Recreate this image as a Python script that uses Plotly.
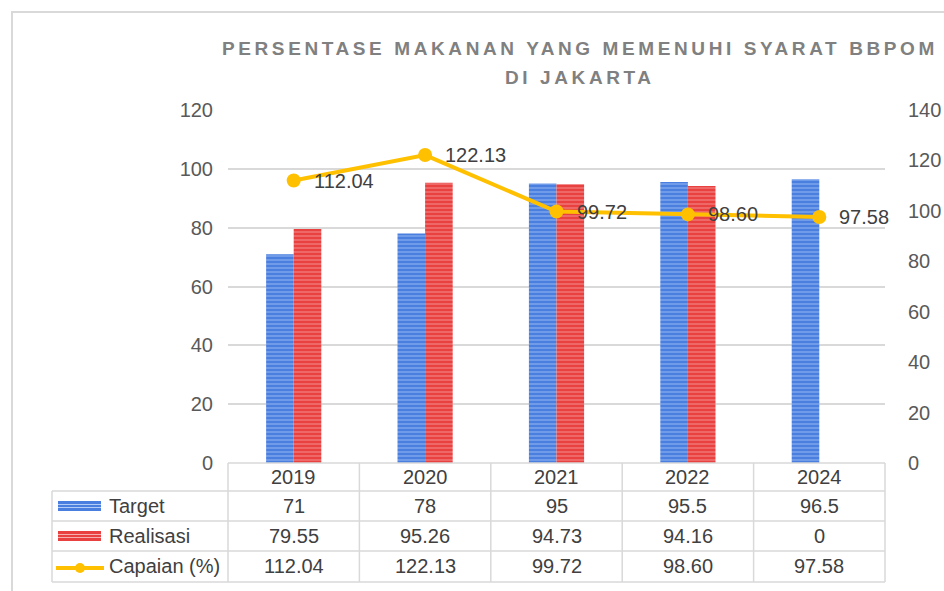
import plotly.graph_objects as go

# ---------------- data ----------------
categories = ["2019", "2020", "2021", "2022", "2024"]
target = [71, 78, 95, 95.5, 96.5]
realisasi = [79.55, 95.26, 94.73, 94.16, 0]
capaian = [112.04, 122.13, 99.72, 98.60, 97.58]
series_names = ["Target", "Realisasi", "Capaian (%)"]
left_ticks = [0, 20, 40, 60, 80, 100, 120]
right_ticks = [0, 20, 40, 60, 80, 100, 120, 140]
title_lines = ["PERSENTASE MAKANAN YANG MEMENUHI SYARAT BBPOM", "DI JAKARTA"]

# ---------------- layout geometry (pixels -> paper) ----------------
W_FIG, H_FIG = 944, 591
L, R, T, B = 228, 885, 110, 463
PW, PH = R - L, B - T


def px(x):
    return (x - L) / PW


def py(y):
    return (B - y) / PH


FONT = "Liberation Sans, Arial, sans-serif"
BLUE = "#4a7fe0"
BLUE_FG = "#b4cdf7"
RED = "#e8413f"
RED_FG = "#f7b0b0"
GOLD = "#FFC000"
GRID = "#d9d9d9"
TXT = "#404040"
TICK = "#595959"

fig = go.Figure()

fig.add_trace(go.Bar(
    x=categories, y=target, name=series_names[0],
    marker=dict(color=BLUE, line=dict(width=0),
                pattern=dict(shape="-", fgcolor=BLUE_FG, bgcolor=BLUE,
                             size=4, solidity=0.35, fillmode="overlay")),
    yaxis="y", showlegend=False, hoverinfo="skip",
))
fig.add_trace(go.Bar(
    x=categories, y=realisasi, name=series_names[1],
    marker=dict(color=RED, line=dict(width=0),
                pattern=dict(shape="-", fgcolor=RED_FG, bgcolor=RED,
                             size=4, solidity=0.35, fillmode="overlay")),
    yaxis="y", showlegend=False, hoverinfo="skip",
))
fig.add_trace(go.Scatter(
    x=categories, y=capaian, name=series_names[2], yaxis="y2",
    mode="lines+markers",
    line=dict(color=GOLD, width=4),
    marker=dict(color=GOLD, size=14),
    cliponaxis=False, showlegend=False, hoverinfo="skip",
))

shapes = []
annotations = []

# data labels of the line (category index positions on the category axis)
for i, v in enumerate(capaian):
    annotations.append(dict(x=i, xref="x", y=v, yref="y2", text=f"{v:.2f}",
                            showarrow=False, xanchor="left", yanchor="middle",
                            xshift=18,
                            font=dict(family=FONT, size=20, color=TXT)))

# outer frame
shapes.append(dict(type="rect", xref="paper", yref="paper",
                   x0=px(12), x1=px(1000), y0=py(12), y1=py(640),
                   line=dict(color=GRID, width=2), layer="below"))

# data table grid
row_lines = [463, 491, 521, 551, 582]
for i, yy in enumerate(row_lines):
    x0 = px(228) if i == 0 else px(52)
    shapes.append(dict(type="line", xref="paper", yref="paper",
                       x0=x0, x1=1, y0=py(yy), y1=py(yy),
                       line=dict(color=GRID, width=1.5)))
n = len(categories)
for k in range(n + 1):
    shapes.append(dict(type="line", xref="paper", yref="paper",
                       x0=k / n, x1=k / n, y0=py(463), y1=py(582),
                       line=dict(color=GRID, width=1.5)))
shapes.append(dict(type="line", xref="paper", yref="paper",
                   x0=px(52), x1=px(52), y0=py(491), y1=py(582),
                   line=dict(color=GRID, width=1.5)))

# legend keys inside the table
for (y0k, col, fg) in [(501, BLUE, BLUE_FG), (531, RED, RED_FG)]:
    shapes.append(dict(type="rect", xref="paper", yref="paper",
                       x0=px(58), x1=px(101), y0=py(y0k), y1=py(y0k + 10),
                       fillcolor=col, line=dict(width=0)))
    for s in (3.5, 6.5):
        shapes.append(dict(type="line", xref="paper", yref="paper",
                           x0=px(58), x1=px(101), y0=py(y0k + s), y1=py(y0k + s),
                           line=dict(color=fg, width=1)))
shapes.append(dict(type="line", xref="paper", yref="paper",
                   x0=px(56), x1=px(104), y0=py(568), y1=py(568),
                   line=dict(color=GOLD, width=4)))
shapes.append(dict(type="circle", xref="paper", yref="paper",
                   x0=px(75), x1=px(85), y0=py(563), y1=py(573),
                   fillcolor=GOLD, line=dict(width=0)))

# table header (categories)
for i, c in enumerate(categories):
    annotations.append(dict(x=i, xref="x", y=py(477), yref="paper",
                            text=c, showarrow=False,
                            xanchor="center", yanchor="middle",
                            font=dict(family=FONT, size=20, color=TXT)))

rows = [
    (series_names[0], [f"{v:g}" for v in target], 506),
    (series_names[1], [f"{v:g}" for v in realisasi], 536),
    (series_names[2], [f"{v:.2f}" for v in capaian], 566),
]
for name, vals, yc in rows:
    annotations.append(dict(x=px(107), xref="paper", y=py(yc), yref="paper",
                            text=name, showarrow=False,
                            xanchor="left", yanchor="middle",
                            font=dict(family=FONT, size=20, color=TXT)))
    for i, v in enumerate(vals):
        annotations.append(dict(x=i, xref="x", y=py(yc), yref="paper",
                                text=v, showarrow=False,
                                xanchor="center", yanchor="middle",
                                font=dict(family=FONT, size=20, color=TXT)))

# title
for t, yc in zip(title_lines, [48, 77]):
    annotations.append(dict(x=px(580), xref="paper", y=py(yc), yref="paper",
                            text=f"<b>{t}</b>", showarrow=False,
                            xanchor="center", yanchor="middle",
                            font=dict(family=FONT, size=19, color="#808080")))

fig.update_layout(
    width=W_FIG, height=H_FIG,
    margin=dict(l=L, r=W_FIG - R, t=T, b=H_FIG - B, pad=0, autoexpand=False),
    paper_bgcolor="white", plot_bgcolor="white",
    barmode="group", bargap=0.58, bargroupgap=0,
    xaxis=dict(type="category", range=[-0.5, n - 0.5], showticklabels=False,
               showgrid=False, showline=False, zeroline=False, ticks="",
               automargin=False),
    yaxis=dict(range=[0, 120], tickvals=left_ticks, showgrid=True,
               gridcolor=GRID, gridwidth=1.5, zeroline=False, showline=False,
               ticks="", ticklabelstandoff=14, automargin=False,
               tickfont=dict(family=FONT, size=20, color=TICK)),
    yaxis2=dict(range=[0, 140], tickvals=right_ticks, overlaying="y",
                side="right", showgrid=False, zeroline=False, showline=False,
                ticks="", ticklabelstandoff=22, automargin=False,
                tickfont=dict(family=FONT, size=20, color=TICK)),
    shapes=shapes, annotations=annotations,
    showlegend=False,
)

post = """
document.body.style.margin = '0';
document.body.style.overflow = 'hidden';
var gd = document.getElementById('{plot_id}');
function spaceTitle(){
  gd.querySelectorAll('text.annotation-text').forEach(function(t){
    var s = t.textContent;
    if (s.indexOf('PERSENTASE') === 0 || s === 'DI JAKARTA') {
      t.style.letterSpacing = '3.6px';
    }
  });
}
spaceTitle();
gd.on('plotly_afterplot', spaceTitle);
"""

fig.write_html("out.html", post_script=post, config={"displayModeBar": False})
